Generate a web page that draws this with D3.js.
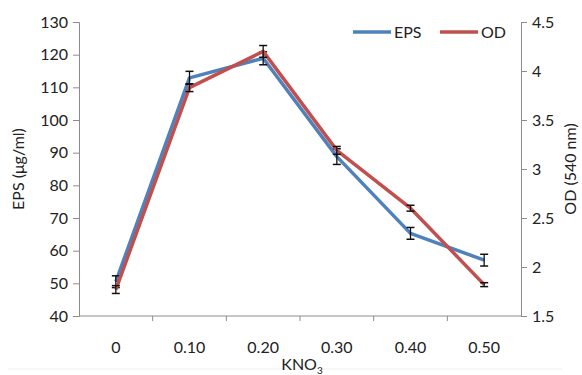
<!DOCTYPE html>
<html>
<head>
<meta charset="utf-8">
<script src="https://cdn.jsdelivr.net/npm/d3@7"></script>
<style>
  body { margin: 0; background: #fff; }
  svg text { font-family: Lato, "Open Sans", sans-serif; fill: #222; }
</style>
</head>
<body>
<div id="chart"></div>
<script>
const categories = ["0", "0.10", "0.20", "0.30", "0.40", "0.50"];
const epsValues = [50.5, 112.9, 118.9, 88.8, 65.3, 57.1];
const epsErrors = [1.8, 2.0, 2.0, 2.4, 1.8, 1.8];
const odValues = [1.77, 3.83, 4.20, 3.19, 2.60, 1.82];
const odErrors = [0.04, 0.04, 0.06, 0.04, 0.03, 0.02];
const leftTicks = [40, 50, 60, 70, 80, 90, 100, 110, 120, 130];
const rightTicks = [1.5, 2, 2.5, 3, 3.5, 4, 4.5];

const width = 582, height = 375;
const margin = { left: 79, right: 61, top: 22, bottom: 59 };
const blue = "#4f81bd", red = "#c0504d", axisColor = "#8c8c8c";
const fontSize = 16;

let svg = d3.select("#chart").append("svg")
    .attr("width", width)
    .attr("height", height);

let x = d3.scaleBand()
    .domain(categories)
    .range([margin.left, width - margin.right]);
let yLeft = d3.scaleLinear()
    .domain([40, 130])
    .range([height - margin.bottom, margin.top]);
let yRight = d3.scaleLinear()
    .domain([1.5, 4.5])
    .range([height - margin.bottom, margin.top]);

// faint frame line at the bottom
svg.append("line")
    .attr("x1", 8).attr("x2", 562)
    .attr("y1", 369).attr("y2", 369)
    .attr("stroke", "#eeeeee");

// axes
let xAxis = svg.append("g")
    .attr("transform", `translate(0, ${ height - margin.bottom })`);
xAxis.append("line")
    .attr("x1", margin.left).attr("x2", width - margin.right)
    .attr("stroke", axisColor);
xAxis.selectAll(".xtick")
    .data(categories.slice(1))
    .enter()
    .append("line")
        .attr("x1", d => x(d)).attr("x2", d => x(d))
        .attr("y1", 0).attr("y2", 5)
        .attr("stroke", axisColor);
xAxis.selectAll(".xlabel")
    .data(categories)
    .enter()
    .append("text")
        .attr("x", d => x(d) + x.bandwidth() / 2)
        .attr("y", 37)
        .attr("text-anchor", "middle")
        .attr("font-size", fontSize)
        .text(d => d);

let leftAxis = d3.axisLeft(yLeft)
    .tickValues(leftTicks)
    .tickSize(6)
    .tickPadding(5);
let gLeft = svg.append("g")
    .attr("transform", `translate(${ margin.left }, 0)`)
    .call(leftAxis);

let rightAxis = d3.axisRight(yRight)
    .tickValues(rightTicks)
    .tickSize(6)
    .tickPadding(5)
    .tickFormat(d => d.toString());
let gRight = svg.append("g")
    .attr("transform", `translate(${ width - margin.right }, 0)`)
    .call(rightAxis);

[gLeft, gRight].forEach(g => {
    g.select(".domain").attr("stroke", axisColor);
    g.selectAll(".tick line").attr("stroke", axisColor);
    g.selectAll(".tick text")
        .attr("font-size", fontSize)
        .attr("fill", "#222")
        .attr("font-family", "Lato, 'Open Sans', sans-serif");
});

// axis titles
svg.append("text")
    .attr("transform", `translate(24, ${ (margin.top + height - margin.bottom) / 2 }) rotate(-90)`)
    .attr("text-anchor", "middle")
    .attr("font-size", fontSize)
    .text("EPS (μg/ml)");

svg.append("text")
    .attr("transform", `translate(576, ${ (margin.top + height - margin.bottom) / 2 }) rotate(-90)`)
    .attr("text-anchor", "middle")
    .attr("font-size", fontSize)
    .text("OD (540 nm)");

let xTitle = svg.append("text")
    .attr("x", 302)
    .attr("y", 370)
    .attr("text-anchor", "middle")
    .attr("font-size", fontSize);
xTitle.append("tspan").text("KNO");
xTitle.append("tspan").attr("font-size", 10).attr("dy", 4).text("3");

// series
function drawSeries(values, errors, scale, color) {
    let cx = (d, i) => x(categories[i]) + x.bandwidth() / 2;
    let line = d3.line()
        .x(cx)
        .y(d => scale(d));
    svg.append("path")
        .datum(values)
        .attr("d", line)
        .attr("fill", "none")
        .attr("stroke", color)
        .attr("stroke-width", 3.5)
        .attr("stroke-linejoin", "round");

    let bars = svg.append("g");
    values.forEach((v, i) => {
        let px = cx(v, i);
        let top = scale(v + errors[i]);
        let bottom = scale(v - errors[i]);
        bars.append("line")
            .attr("x1", px).attr("x2", px)
            .attr("y1", top).attr("y2", bottom)
            .attr("stroke", "#111").attr("stroke-width", 1.3);
        [top, bottom].forEach(yy => {
            bars.append("line")
                .attr("x1", px - 4).attr("x2", px + 4)
                .attr("y1", yy).attr("y2", yy)
                .attr("stroke", "#111").attr("stroke-width", 1.5);
        });
    });
}

drawSeries(epsValues, epsErrors, yLeft, blue);
drawSeries(odValues, odErrors, yRight, red);

// legend
let legend = [{ name: "EPS", color: blue, x: 353 }, { name: "OD", color: red, x: 440 }];
let lg = svg.selectAll(".legend")
    .data(legend)
    .enter()
    .append("g");
lg.append("line")
    .attr("x1", d => d.x).attr("x2", d => d.x + 38)
    .attr("y1", 32).attr("y2", 32)
    .attr("stroke", d => d.color)
    .attr("stroke-width", 3.5);
lg.append("text")
    .attr("x", d => d.x + 41)
    .attr("y", 37.5)
    .attr("font-size", fontSize)
    .text(d => d.name);
</script>
</body>
</html>
